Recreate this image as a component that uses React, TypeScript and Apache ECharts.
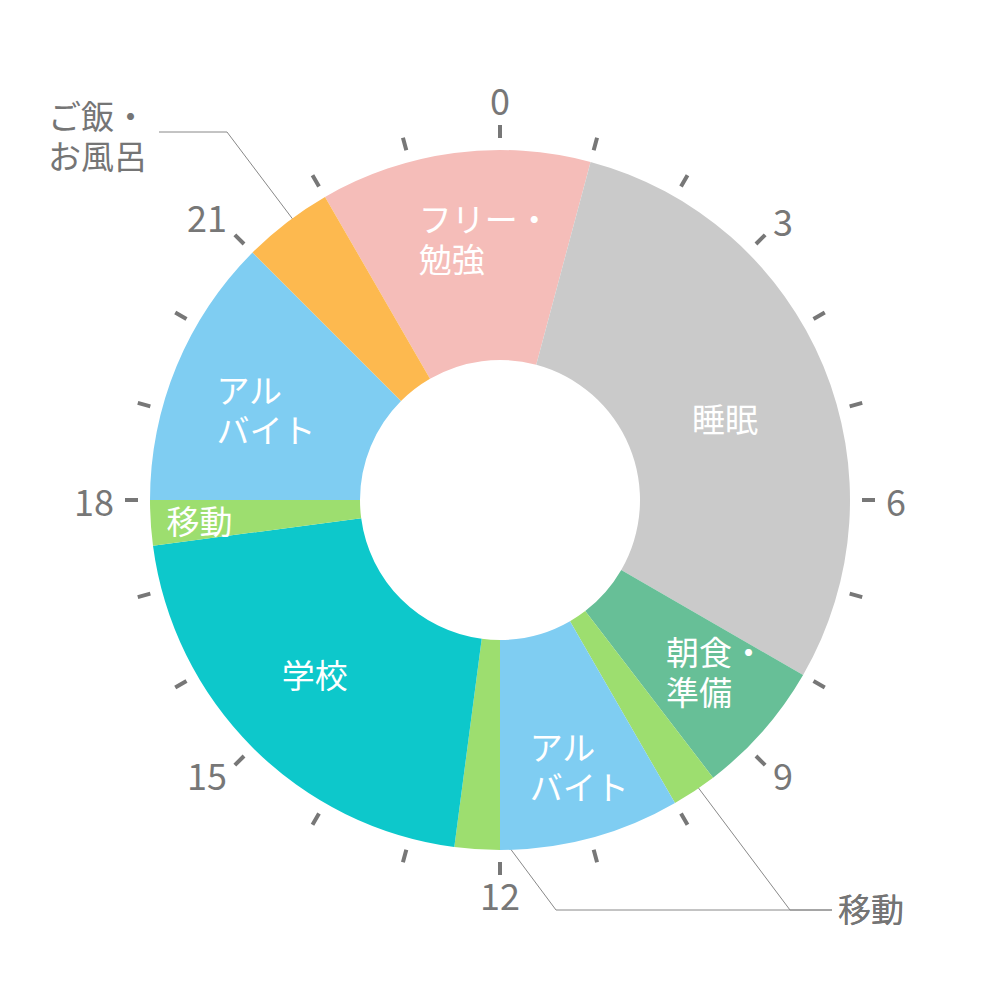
import { useEffect, useRef } from "react";
import * as echarts from "echarts";

// 1日のスケジュール（22時から時計回り）
const startHour = 22;
const activities = [
  "フリー・\n勉強",
  "睡眠",
  "朝食・\n準備",
  "移動",
  "アル\nバイト",
  "移動",
  "学校",
  "移動",
  "アル\nバイト",
  "ご飯・\nお風呂",
];
const hours = [3, 7, 1.5, 0.5, 2, 0.5, 5, 0.5, 3, 1];
const colors = [
  "#F5BDB9",
  "#CACACA",
  "#67BF97",
  "#9DDE6F",
  "#7FCDF2",
  "#9DDE6F",
  "#0DC8CB",
  "#9DDE6F",
  "#7FCDF2",
  "#FDB94F",
];
const clockLabels = ["0", "3", "6", "9", "12", "15", "18", "21"];
// 時計の数字ごとの行の高さ（縦位置の調整）
const clockLabelStyle: Record<string, string> = {
  "0": "t",
  "3": "ur",
  "6": "m",
  "9": "lr",
  "12": "b",
  "15": "lr",
  "18": "m",
  "21": "ul",
};

const FONT = "'Noto Sans CJK JP', 'Noto Sans', sans-serif";

// 内側ラベルの微調整
const labelOffsets = [
  [17, -16],
  [-4, 13],
  [29, 7],
  [0, 0],
  [15, 26],
  [0, 0],
  [-10, -1],
  [-53, 4],
  [-5, 4],
  [0, 0],
];

// 外側に出すラベルの位置
const callouts: Record<number, { x: number; y: number; align: string; line: number[][] }> = {
  9: { x: 147, y: 135, align: "right", line: [[313, 246], [227, 132], [159, 132]] },
  3: { x: 838, y: 908, align: "left", line: [[682, 766], [790, 910], [832, 910]] },
  5: { x: 838, y: 908, align: "left", line: [[483, 812], [556, 910], [832, 910]] },
};

const App = () => {
  const chartRef = useRef<HTMLDivElement>(null);

  useEffect(() => {
    document.body.style.margin = "0";
    if (!chartRef.current) return;
    const chart = echarts.init(chartRef.current, null, { renderer: "svg" });

    const pieData = activities.map((name, i) => {
      const outside = callouts[i] !== undefined;
      return {
        name,
        value: hours[i],
        itemStyle: { color: colors[i] },
        label: outside
          ? { position: "outside", color: "#757575", fontSize: 33, lineHeight: 40 }
          : { position: "inside" },
        labelLine: outside
          ? { show: true, lineStyle: { color: "#888", width: 1 } }
          : { show: false },
      };
    });

    const digit = (lineHeight: number) => ({
      color: "#777",
      fontSize: 36,
      fontFamily: FONT,
      lineHeight,
    });

    const option: echarts.EChartsOption = {
      animation: false,
      backgroundColor: "#fff",
      textStyle: { fontFamily: FONT },
      polar: { center: ["50%", "50%"], radius: 362 },
      angleAxis: {
        type: "value",
        min: 0,
        max: 24,
        interval: 1,
        startAngle: 90,
        clockwise: true,
        axisLine: { show: false },
        splitLine: { show: false },
        axisTick: {
          show: true,
          inside: false,
          length: 13,
          lineStyle: { color: "#777", width: 4 },
        },
        axisLabel: {
          show: true,
          margin: 24,
          color: "#777",
          fontSize: 36,
          fontFamily: FONT,
          formatter: (v: number) => {
            const s = String(Math.round(v));
            if (v >= 24 || !clockLabels.includes(s)) return "";
            return `{${clockLabelStyle[s]}|${s}}`;
          },
          rich: {
            t: digit(30),
            b: digit(16),
            ur: digit(14),
            ul: digit(22),
            lr: digit(2),
            m: digit(36),
          },
        },
      },
      radiusAxis: { show: false, min: 0, max: 1 },
      series: [
        {
          type: "pie",
          center: ["50%", "50%"],
          radius: [140, 350],
          startAngle: 90 - startHour * 15 + 360,
          clockwise: true,
          silent: true,
          data: pieData as any,
          label: {
            show: true,
            formatter: "{b}",
            color: "#fff",
            fontSize: 33,
            lineHeight: 40,
            fontFamily: FONT,
          },
          labelLayout: (params: any) => {
            const c = callouts[params.dataIndex];
            if (c) {
              return {
                x: c.x,
                y: c.y,
                align: c.align,
                verticalAlign: "middle",
                labelLinePoints: c.line,
              };
            }
            const r = params.labelRect;
            const off = labelOffsets[params.dataIndex];
            return {
              x: r.x + off[0],
              y: r.y + r.height / 2 + off[1],
              align: "left",
              verticalAlign: "middle",
            };
          },
        },
      ],
    };

    chart.setOption(option);
    return () => {
      chart.dispose();
    };
  }, []);

  return <div ref={chartRef} style={{ width: "1000px", height: "1000px" }} />;
};

export default App;
